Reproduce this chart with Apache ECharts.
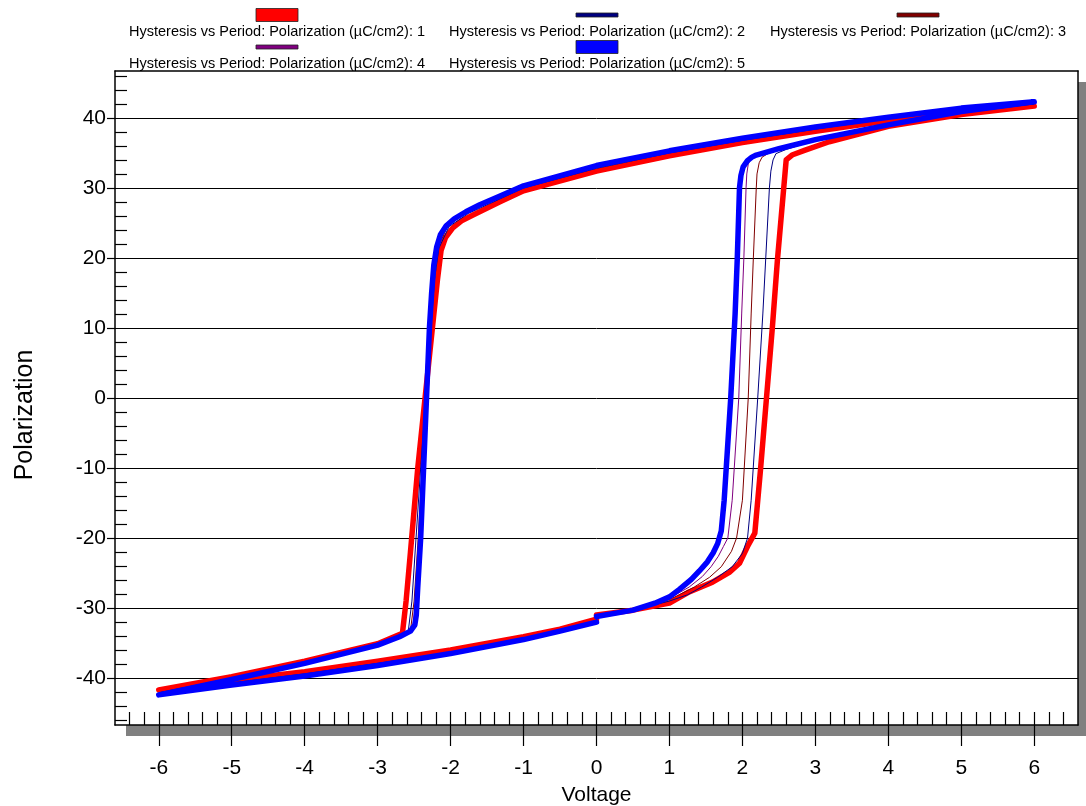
<!DOCTYPE html>
<html>
<head>
<meta charset="utf-8">
<script src="https://cdn.jsdelivr.net/npm/echarts@6/dist/echarts.min.js"></script>
<style>
html,body{margin:0;padding:0;background:#fff;}
#chart{width:1086px;height:806px;}
</style>
</head>
<body>
<div id="chart"></div>
<script>
// ---- data ----
const seriesNames = [
  'Hysteresis vs Period: Polarization (µC/cm2): 1',
  'Hysteresis vs Period: Polarization (µC/cm2): 2',
  'Hysteresis vs Period: Polarization (µC/cm2): 3',
  'Hysteresis vs Period: Polarization (µC/cm2): 4',
  'Hysteresis vs Period: Polarization (µC/cm2): 5'
];
const xTicks = [-6,-5,-4,-3,-2,-1,0,1,2,3,4,5,6];
const yTicks = [-40,-30,-20,-10,0,10,20,30,40];

// [Voltage, Polarization]; path 0 -> +6 -> -6 -> 0
const loop1 = [
[0,-31.0],[0.5,-30.3],[1.0,-29.3],[1.27,-27.7],[1.59,-26.3],[1.82,-24.9],[1.96,-23.6],[2.07,-21.2],[2.17,-19.3],[2.25,-10],[2.33,0],[2.41,10],[2.48,19.7],[2.60,34.0],[2.68,34.7],[2.86,35.4],[3.19,36.6],[4.0,38.8],[5.0,40.5],[6.0,41.7],
[5.0,40.9],[4.0,39.6],[3.0,38.1],[2.0,36.5],[1.0,34.6],[0,32.4],[-1.0,29.6],[-1.33,28.0],[-1.70,26.1],[-1.85,25.3],[-1.97,24.3],[-2.07,22.9],[-2.13,21.1],[-2.18,16.9],[-2.35,0],[-2.45,-10],[-2.55,-22],[-2.61,-29],[-2.66,-33.6],[-3.0,-35.1],[-4.0,-37.6],[-5.0,-39.8],[-6.0,-41.7],
[-5.0,-40.3],[-4.0,-39.1],[-3.0,-37.6],[-2.0,-36.0],[-1.0,-34.1],[-0.5,-33.0],[0,-31.6]
];
const loop2 = [
[0,-31.0],[0.5,-30.3],[1.0,-29.0],[1.25,-28.1],[1.44,-27.0],[1.66,-25.6],[1.86,-24.1],[2.0,-22.2],[2.07,-20],[2.12,-14.6],[2.21,0],[2.28,12],[2.32,20],[2.37,30],[2.39,32.4],[2.42,34.0],[2.46,34.9],[2.6,35.5],[3.0,36.8],[4.0,38.9],[5.0,40.7],[6.0,42.0],
[5.0,41.2],[4.0,39.9],[3.0,38.4],[2.0,36.8],[1.0,35.0],[0,32.8],[-1.0,30.0],[-1.33,28.4],[-1.75,26.4],[-2.02,24.5],[-2.16,21.4],[-2.22,17],[-2.34,0],[-2.41,-10],[-2.48,-21],[-2.53,-29],[-2.58,-33.3],[-3.0,-35.2],[-4.0,-37.8],[-5.0,-40.0],[-6.0,-42.1],
[-5.0,-40.7],[-4.0,-39.4],[-3.0,-37.9],[-2.0,-36.3],[-1.0,-34.3],[-0.5,-33.2],[0,-31.8]
];
const loop3 = [
[0,-31.1],[0.5,-30.3],[1.0,-28.8],[1.34,-27.0],[1.55,-25.6],[1.71,-24.1],[1.85,-21.9],[1.92,-20],[2.0,-14.6],[2.08,0],[2.12,12],[2.15,20],[2.19,30],[2.20,32.0],[2.23,33.6],[2.27,34.4],[2.35,34.9],[2.5,35.5],[3.0,36.8],[4.0,38.9],[5.0,40.8],[6.0,42.1],
[5.0,41.3],[4.0,40.0],[3.0,38.5],[2.0,36.9],[1.0,35.1],[0,32.9],[-1.0,30.1],[-1.33,28.6],[-1.77,26.5],[-2.04,24.6],[-2.17,21.5],[-2.23,17],[-2.33,0],[-2.39,-10],[-2.45,-21],[-2.5,-29],[-2.55,-33.2],[-3.0,-35.2],[-4.0,-37.8],[-5.0,-40.1],[-6.0,-42.2],
[-5.0,-40.8],[-4.0,-39.5],[-3.0,-38.0],[-2.0,-36.4],[-1.0,-34.4],[-0.5,-33.2],[0,-31.9]
];
const loop4 = [
[0,-31.1],[0.5,-30.3],[1.0,-28.6],[1.27,-27.0],[1.45,-25.5],[1.57,-24.1],[1.67,-22.6],[1.74,-21.2],[1.80,-20],[1.86,-14.6],[1.95,0],[1.99,12],[2.02,20],[2.05,30],[2.06,32.0],[2.08,33.4],[2.12,34.2],[2.2,34.8],[2.4,35.4],[3.0,36.9],[4.0,39.0],[5.0,40.9],[6.0,42.2],
[5.0,41.4],[4.0,40.1],[3.0,38.6],[2.0,37.0],[1.0,35.2],[0,33.1],[-1.0,30.2],[-1.33,28.7],[-1.78,26.6],[-2.05,24.7],[-2.18,21.6],[-2.24,17],[-2.32,0],[-2.37,-10],[-2.42,-20],[-2.47,-28],[-2.52,-33],[-3.0,-35.3],[-4.0,-37.9],[-5.0,-40.2],[-6.0,-42.3],
[-5.0,-40.9],[-4.0,-39.6],[-3.0,-38.1],[-2.0,-36.5],[-1.0,-34.5],[-0.5,-33.3],[0,-32.0]
];
const loop5 = [
[0,-31.2],[0.5,-30.3],[0.8,-29.3],[1.0,-28.4],[1.14,-27.3],[1.3,-25.9],[1.41,-24.7],[1.52,-23.4],[1.60,-22.1],[1.66,-20.8],[1.71,-19.0],[1.75,-14.6],[1.84,0],[1.90,12],[1.93,20],[1.96,30],[1.98,31.8],[2.01,33.0],[2.07,33.9],[2.13,34.4],[2.19,34.7],[2.5,35.6],[3.0,36.9],[4.0,39.0],[5.0,40.9],[6.0,42.3],
[5.0,41.4],[4.0,40.1],[3.0,38.7],[2.0,37.1],[1.0,35.3],[0,33.2],[-1.0,30.3],[-1.33,28.8],[-1.6,27.6],[-1.79,26.6],[-1.95,25.6],[-2.06,24.6],[-2.14,23.3],[-2.19,21.6],[-2.23,19],[-2.26,15],[-2.29,10],[-2.33,0],[-2.37,-10],[-2.41,-20],[-2.45,-27],[-2.47,-31],[-2.49,-32.4],[-2.55,-33.3],[-2.7,-34.1],[-3.0,-35.3],[-4.0,-37.9],[-5.0,-40.2],[-6.0,-42.4],
[-5.0,-41.0],[-4.0,-39.7],[-3.0,-38.2],[-2.0,-36.5],[-1.0,-34.5],[-0.5,-33.3],[0,-32.0]
];
const loops = [loop1, loop2, loop3, loop4, loop5];
const colors = ['#ff0000','#000080','#800000','#800080','#0000ff'];
const widths = [5.5, 1, 1, 1, 5.5];

// ---- chart ----
const FONT = "'Liberation Sans', Arial, sans-serif";
const chart = echarts.init(document.getElementById('chart'), null, {renderer:'canvas'});

const legendPos = [[277,32],[597,32],[918,32],[277,64],[597,64]];
const legendSwatchH = [13, 4, 4, 4, 13];
const legendGraphics = [];
seriesNames.forEach((n,i)=>{
  const [cx, cy] = legendPos[i];
  const h = legendSwatchH[i];
  legendGraphics.push({
    type:'rect', x: cx-21, y: cy - 17 - h/2,
    shape:{width:42, height:h},
    style:{fill: colors[i], stroke:'#222', lineWidth:0.8}
  });
  legendGraphics.push({
    type:'text', x: cx, y: cy,
    style:{text:n, fill:'#000', font:'14.5px '+FONT, textAlign:'center', textVerticalAlign:'middle'}
  });
});

const frameAxis = (extra)=>Object.assign({
  type:'value',
  axisLine:{show:true, onZero:false, lineStyle:{color:'#000', width:1.5}},
  axisTick:{show:false}, axisLabel:{show:false}, splitLine:{show:false}
}, extra);

const option = {
  animation:false,
  backgroundColor:'#fff',
  graphic: legendGraphics,
  grid:{
    left:115, top:71, right:8, bottom:81,
    outerBoundsMode:'none', containLabel:false,
    show:true, backgroundColor:'#fff', borderWidth:0,
    shadowColor:'#808080', shadowOffsetX:11, shadowOffsetY:11, shadowBlur:0
  },
  xAxis:[{
    type:'value', min:-6.6, max:6.6, minInterval:1, maxInterval:1, splitNumber:13,
    position:'bottom',
    axisLine:{show:true, onZero:false, lineStyle:{color:'#000', width:1.5}},
    axisTick:{show:true, inside:false, length:21, customValues:xTicks, lineStyle:{color:'#000', width:1.2}},
    axisLabel:{show:true, customValues:xTicks, margin:33, color:'#000', fontSize:21, fontFamily:FONT},
    splitLine:{show:false},
    name:'Voltage', nameLocation:'middle', nameGap:60,
    nameTextStyle:{color:'#000', fontSize:21, fontFamily:FONT}
  },{
    type:'value', min:-6.6, max:6.6, minInterval:1, maxInterval:1, splitNumber:13,
    position:'bottom',
    axisLine:{show:false, onZero:false},
    axisTick:{show:true, inside:true, length:13, customValues:xTicks, lineStyle:{color:'#000', width:1.2}},
    minorTick:{show:true, splitNumber:5, length:13, lineStyle:{color:'#000', width:1.2}},
    axisLabel:{show:false},
    splitLine:{show:false}
  }, frameAxis({min:-6.6, max:6.6, position:'top'})],
  yAxis:[{
    type:'value', min:-46.7, max:46.7, minInterval:10, maxInterval:10, splitNumber:9,
    position:'left',
    axisLine:{show:true, onZero:false, lineStyle:{color:'#000', width:1.5}},
    axisTick:{show:true, inside:false, length:8, customValues:yTicks, lineStyle:{color:'#000', width:1.2}},
    axisLabel:{show:true, customValues:yTicks, margin:9, color:'#000', fontSize:21, fontFamily:FONT},
    splitLine:{show:true, lineStyle:{color:'#000', width:1}},
    name:'Polarization', nameLocation:'middle', nameGap:77,
    nameTextStyle:{color:'#000', fontSize:25, fontFamily:FONT, padding:[0,34,0,0]}
  },{
    type:'value', min:-46.7, max:46.7, minInterval:10, maxInterval:10, splitNumber:9,
    position:'left',
    axisLine:{show:false, onZero:false},
    axisTick:{show:false, inside:true, length:12},
    minorTick:{show:true, splitNumber:5, length:12, lineStyle:{color:'#000', width:1.2}},
    axisLabel:{show:false},
    splitLine:{show:false}
  }, frameAxis({min:-46.7, max:46.7, position:'right'})],
  series: loops.map((d,i)=>({
    name: seriesNames[i], type:'line', data:d, xAxisIndex:0, yAxisIndex:0,
    showSymbol:false, symbol:'none', smooth:false, clip:true,
    lineStyle:{color:colors[i], width:widths[i], join:'round', cap:'round'},
    z: 2 + i
  }))
};
chart.setOption(option);
</script>
</body>
</html>
